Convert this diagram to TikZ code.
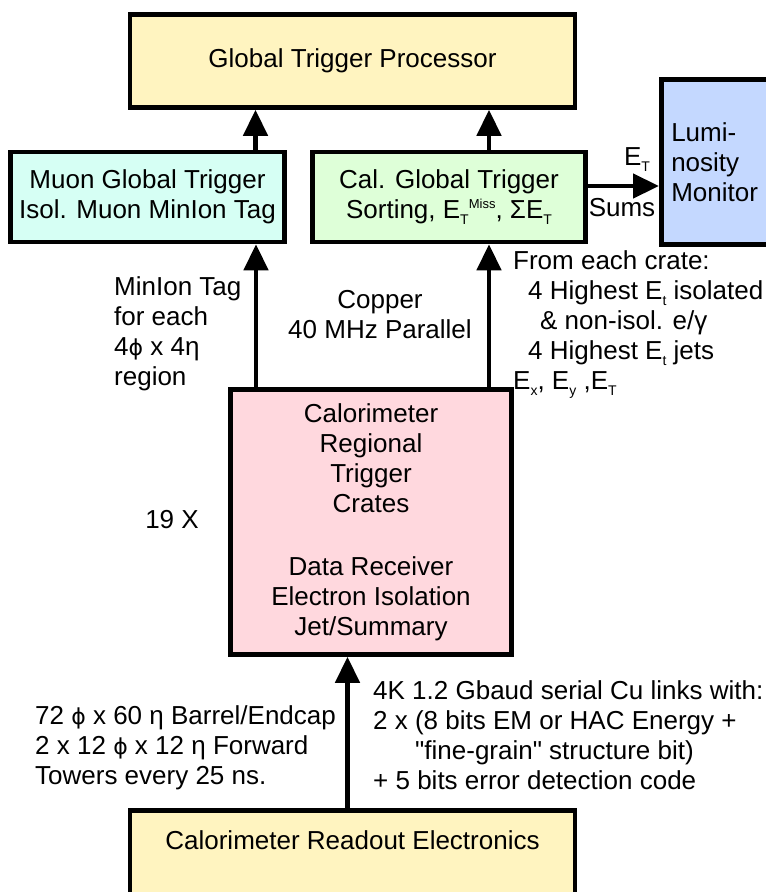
\documentclass[tikz,border=0pt]{standalone}
\usepackage{fontspec}
\setmainfont{Liberation Sans}
\newfontfamily\symf{DejaVu Sans}
\newfontfamily\quotef{Liberation Sans}[Ligatures=ResetAll]
\usetikzlibrary{arrows.meta,calc}
\definecolor{gtpyellow}{RGB}{255,244,192}
\definecolor{muoncyan}{RGB}{214,255,244}
\definecolor{calgreen}{RGB}{222,255,216}
\definecolor{lumiblue}{RGB}{196,216,255}
\definecolor{cratepink}{RGB}{255,216,222}
\newcommand{\Esb}[1]{E\raisebox{-6pt}{\fontsize{14}{14}\selectfont #1}}
\newcommand{\Phisym}{{\symf\fontsize{22}{30}\selectfont ϕ}}
\newcommand{\sq}{{\quotef\char"22}}
\begin{document}
\begin{tikzpicture}[x=1pt,y=-1pt,
  font=\fontsize{26}{30}\selectfont,
  box/.style={draw,line width=4.5pt,inner sep=0pt,align=center},
  arr/.style={line width=4.5pt,-{Triangle[length=26pt,width=24pt]}},
  lbl/.style={inner sep=0pt,align=left},
  lblc/.style={inner sep=0pt,align=center}]
\useasboundingbox (0,0) rectangle (766,892);
\clip (0,0) rectangle (766,892);
% boxes
\node[box,fill=gtpyellow,minimum width=445pt,minimum height=93pt] (gtp) at (352.5,61) {Global Trigger Processor};
\node[box,fill=muoncyan,minimum width=274pt,minimum height=90pt] (muon) at (147.5,197) {Muon Global Trigger\\Isol. Muon MinIon Tag};
\node[box,fill=calgreen,minimum width=273pt,minimum height=90pt] (cal) at (449,197) {Cal. Global Trigger\\Sorting, E\raisebox{-6pt}{\fontsize{14}{14}\selectfont T}\raisebox{10pt}{\fontsize{13}{13}\selectfont Miss}, Σ\Esb{T}};
\node[box,fill=lumiblue,minimum width=160pt,minimum height=165pt,anchor=north west,text width=140pt,inner xsep=9pt,align=left] (lumi) at (659,77) {Lumi-\\nosity\\Monitor};
\node[box,fill=cratepink,minimum width=281pt,minimum height=265pt] (crate) at (371,522) {Calorimeter\\Regional\\Trigger\\Crates\\[33pt]Data Receiver\\Electron Isolation\\Jet/Summary};
\node[box,fill=gtpyellow,minimum width=445pt,minimum height=120pt,anchor=north] (cre) at (352.5,808) {};
\node[lblc] (cretext) at (352.5,840) {Calorimeter Readout Electronics};
% connectors
\draw[arr] ([xshift=108pt]muon.north) -- ([xshift=108pt]muon.north |- gtp.south);
\draw[arr] ([xshift=40pt]cal.north) -- ([xshift=40pt]cal.north |- gtp.south);
\draw[arr] ([xshift=-115pt]crate.north) -- ([xshift=-115pt]crate.north |- muon.south);
\draw[arr] ([xshift=118pt]crate.north) -- ([xshift=118pt]crate.north |- cal.south);
\draw[arr] (cal.east |- 0,186) -- (lumi.west |- 0,186);
\draw[arr] ([xshift=-5pt]cre.north) -- ([xshift=-5pt]cre.north |- crate.south);
% labels
\node[lbl,anchor=south] (etl) at (637,172) {\Esb{T}};
\node[lbl] (sums) at (622,208) {Sums};
\node[lbl,anchor=west] (minion) at (114,334) {MinIon Tag\\for each\\4\Phisym{} x 4η\\region};
\node[lblc] (copper) at (380,315) {Copper\\40 MHz Parallel};
\node[lbl,anchor=west] (fromeach) at (513,325) {From each crate:\\\hspace*{15pt}4 Highest \Esb{t} isolated\\\hspace*{27pt}\& non-isol. e/γ\\\hspace*{15pt}4 Highest \Esb{t} jets\\\Esb{x}, \Esb{y} ,\Esb{T}};
\node[lblc] (nineteen) at (172,520) {19 X};
\node[lbl,anchor=west] (towers) at (35,748) {72 \Phisym{} x 60 η Barrel/Endcap\\2 x 12 \Phisym{} x 12 η Forward\\Towers every 25 ns.};
\node[lbl,anchor=west] (links) at (373,735) {4K 1.2 Gbaud serial Cu links with:\\2 x (8 bits EM or HAC Energy +\\\hspace*{42pt}\sq fine-grain\sq{} structure bit)\\+ 5 bits error detection code};
\end{tikzpicture}
\end{document}
